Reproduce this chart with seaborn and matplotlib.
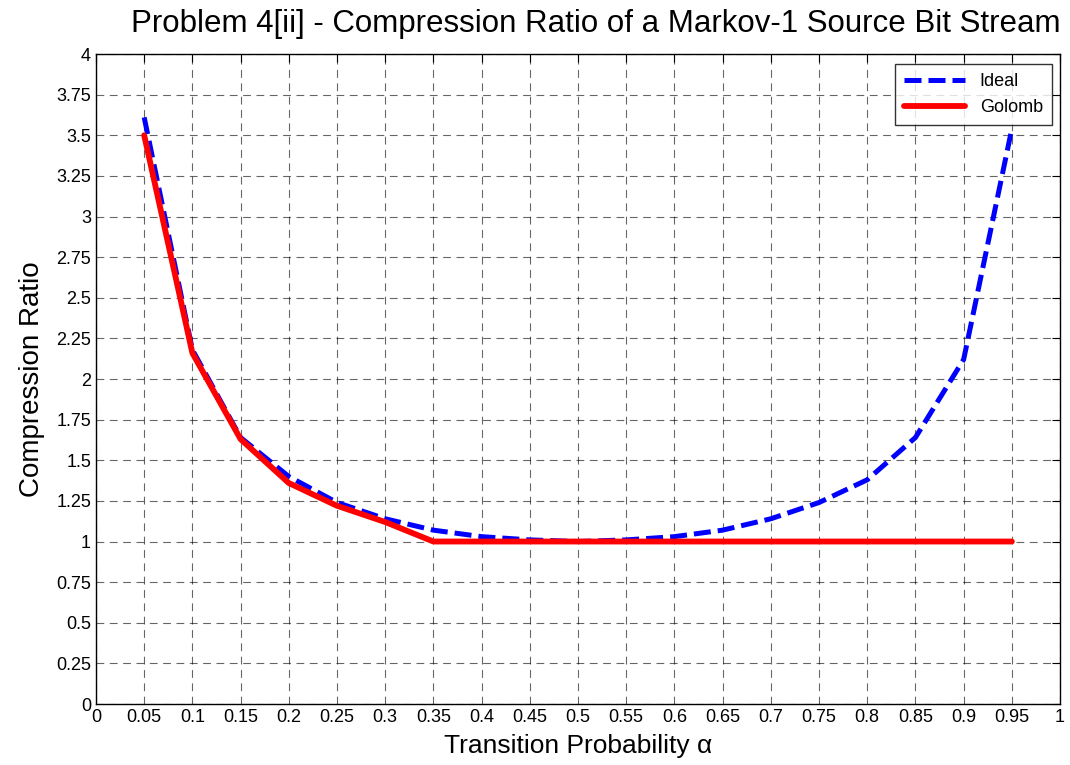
import numpy as np
import pandas as pd
import matplotlib
matplotlib.use('Agg')
import matplotlib.pyplot as plt
import seaborn as sns

alpha = [0.05, 0.1, 0.15, 0.2, 0.25, 0.3, 0.35, 0.4, 0.45, 0.5,
         0.55, 0.6, 0.65, 0.7, 0.75, 0.8, 0.85, 0.9, 0.95]
ideal = [3.61, 2.18, 1.64, 1.40, 1.24, 1.14, 1.07, 1.03, 1.01, 1.00,
         1.01, 1.03, 1.07, 1.14, 1.24, 1.38, 1.64, 2.12, 3.54]
golomb = [3.50, 2.16, 1.63, 1.36, 1.22, 1.12, 1.00, 1.00, 1.00, 1.00,
          1.00, 1.00, 1.00, 1.00, 1.00, 1.00, 1.00, 1.00, 1.00]

x_ticks = np.round(np.arange(0, 1.0001, 0.05), 2)
y_ticks = np.round(np.arange(0, 4.0001, 0.25), 2)

sns.set_style('white')
plt.rcParams['font.family'] = ['Liberation Sans', 'DejaVu Sans']
plt.rcParams['text.color'] = 'black'
plt.rcParams['axes.labelcolor'] = 'black'

fig = plt.figure(figsize=(10.7, 7.65), dpi=100)
ax = fig.add_axes([0.0897, 0.0797, 0.901, 0.8497])

sns.lineplot(x=alpha, y=ideal, ax=ax, color='#0000ff', linewidth=3.6,
             label='Ideal')
ax.lines[-1].set_dashes([3.4, 1.4])
sns.lineplot(x=alpha, y=golomb, ax=ax, color='#ff0000', linewidth=4.2,
             label='Golomb')

ax.set_xlim(0, 1)
ax.set_ylim(0, 4)
ax.set_xticks(x_ticks)
ax.set_xticklabels([f'{v:g}' for v in x_ticks])
ax.set_yticks(y_ticks)
ax.set_yticklabels([f'{v:g}' for v in y_ticks])
ax.tick_params(direction='in', length=6, width=0.8, labelsize=13,
               top=True, right=True, colors='black')
ax.grid(True, color='black', linestyle=(0, (7, 5)), linewidth=0.8, alpha=0.6)
for s in ax.spines.values():
    s.set_color('black')
    s.set_linewidth(1.0)

fig.text(596 / 1070, 1 - 24 / 765,
         'Problem 4[ii] - Compression Ratio of a Markov-1 Source Bit Stream',
         fontsize=22.5, ha='center', va='center')
ax.set_xlabel('Transition Probability α', fontsize=19, labelpad=6)
ax.set_ylabel('Compression Ratio', fontsize=20, labelpad=8)

leg = ax.legend(loc='upper right', bbox_to_anchor=(1052 / 1070, 1 - 64 / 765),
                bbox_transform=fig.transFigure, borderaxespad=0,
                fontsize=13, frameon=True, fancybox=False,
                edgecolor='black', handlelength=3.4, borderpad=0.5)
leg.get_frame().set_linewidth(1.0)

fig.savefig('out.png', dpi=100)
